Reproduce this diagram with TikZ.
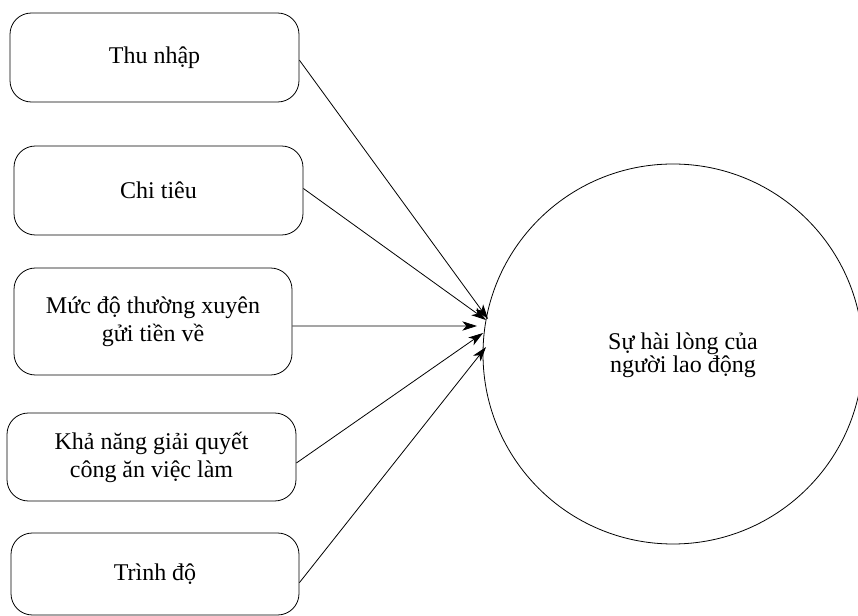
\documentclass[tikz,border=0pt]{standalone}
\usepackage{fontspec}
\setmainfont{Liberation Serif}
\usetikzlibrary{arrows.meta}
\begin{document}
\begin{tikzpicture}[x=0.75pt,y=-0.75pt,
  factor/.style={draw=black, line width=0.6pt, rectangle, rounded corners=16pt,
    inner sep=0pt, align=center, font=\fontsize{18}{21}\selectfont},
  outcome/.style={draw=black, line width=0.6pt, circle, inner sep=0pt,
    minimum size=285pt},
  link/.style={line width=0.6pt, -{Stealth[length=11pt,width=7pt,inset=3pt]}}]
\useasboundingbox (0,0) rectangle (858,616);

% factor boxes on the left
\node[factor, minimum width=216.75pt, minimum height=66.75pt] (b1) at (154.5,57.5) {Thu nhập};
\node[factor, minimum width=216.75pt, minimum height=66.75pt] (b2) at (158.5,190.5) {Chi tiêu};
\node[factor, minimum width=208.5pt, minimum height=80.25pt] (b3) at (153,321.5) {Mức độ thường xuyên\\gửi tiền về};
\node[factor, minimum width=216.75pt, minimum height=66pt] (b4) at (151.5,457) {Khả năng giải quyết\\công ăn việc làm};
\node[factor, minimum width=216pt, minimum height=61.5pt] (b5) at (155,574) {Trình độ};

% outcome circle and its label
\node[outcome] (sat) at (673,354) {};
\node[align=center, font=\fontsize{18}{17.5}\selectfont] (satlabel) at (683,355) {Sự hài lòng của\\người lao động};

% arrow tips near the circle
\coordinate (t1) at (488,319);
\coordinate (t2) at (486,320);
\coordinate (t3) at (477,326);
\coordinate (t4) at (483,333);
\coordinate (t5) at (486,347);

\draw[link] ([yshift=-2pt]b1.east) -- (t1);
\draw[link] ([yshift=1.5pt]b2.east) -- (t2);
\draw[link] ([yshift=-3.4pt]b3.east) -- (t3);
\draw[link] ([yshift=-4.5pt]b4.east) -- (t4);
\draw[link] ([yshift=-6.5pt]b5.east) -- (t5);
\end{tikzpicture}
\end{document}
